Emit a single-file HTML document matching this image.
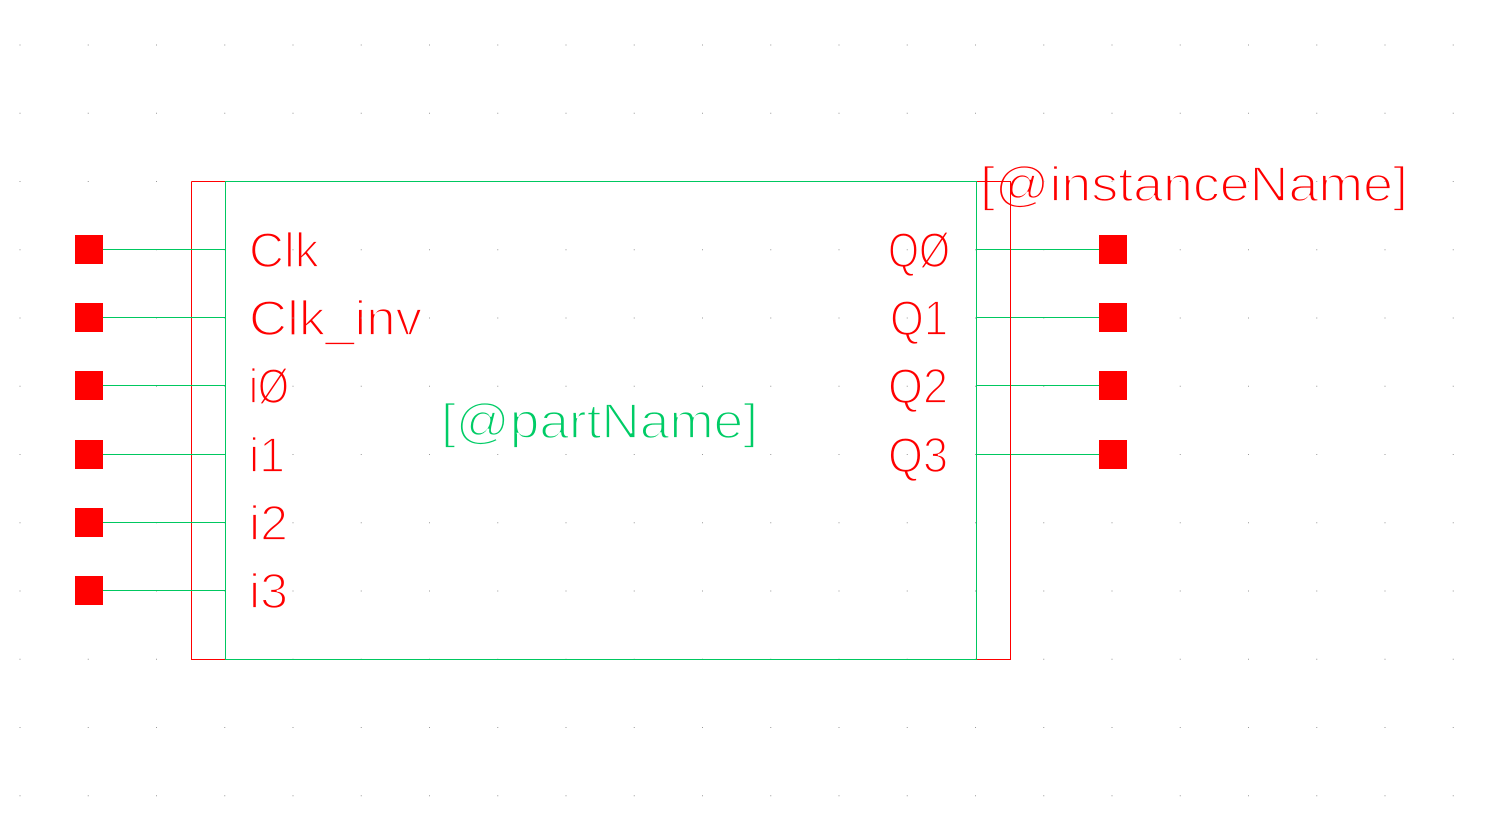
<!DOCTYPE html>
<html><head><meta charset="utf-8"><style>
html,body{margin:0;padding:0;background:#fff;}
svg{display:block;}
text{font-family:"Liberation Sans",sans-serif;font-size:49px;stroke:#fff;stroke-width:1.8px;paint-order:fill stroke;}
</style></head><body>
<svg width="1488" height="819" viewBox="0 0 1488 819" xmlns="http://www.w3.org/2000/svg">
<g fill="#ff0000">
<text x="249" y="267" textLength="70" lengthAdjust="spacingAndGlyphs">Clk</text>
<text x="249" y="335" textLength="173" lengthAdjust="spacingAndGlyphs">Clk_inv</text>
<text x="249" y="403" textLength="40" lengthAdjust="spacingAndGlyphs">iØ</text>
<text x="249" y="472" textLength="36" lengthAdjust="spacingAndGlyphs">i1</text>
<text x="249" y="540" textLength="39" lengthAdjust="spacingAndGlyphs">i2</text>
<text x="249" y="608" textLength="39" lengthAdjust="spacingAndGlyphs">i3</text>
<text x="888" y="267" textLength="62" lengthAdjust="spacingAndGlyphs">QØ</text>
<text x="890" y="335" textLength="58" lengthAdjust="spacingAndGlyphs">Q1</text>
<text x="888" y="403" textLength="60" lengthAdjust="spacingAndGlyphs">Q2</text>
<text x="888" y="472" textLength="60" lengthAdjust="spacingAndGlyphs">Q3</text>
<text x="980" y="201" textLength="428" lengthAdjust="spacingAndGlyphs">[@instanceName]</text>
</g>
<text x="441" y="438" fill="#00cc66" textLength="317" lengthAdjust="spacingAndGlyphs">[@partName]</text>
<defs>
<pattern id="g" x="19.5" y="44.5" width="68.25" height="68.25" patternUnits="userSpaceOnUse">
<rect x="0" y="0" width="1" height="1" fill="#999"/>
</pattern>
</defs>
<rect width="1488" height="819" fill="url(#g)"/>
<g shape-rendering="crispEdges" stroke-width="1" fill="none">
<path d="M191.5 181.5H225.5M191.5 181.5V659.5H225.5" stroke="#ff0000"/>
<path d="M976.5 181.5H1010.5V659.5H976.5" stroke="#ff0000"/>
<path d="M225.5 181.5H976.5V659.5H225.5Z" stroke="#00c860"/>
<path d="M103 249.5H225M103 317.5H225M103 385.5H225M103 454.5H225M103 522.5H225M103 590.5H225" stroke="#00c860"/>
<path d="M977 249.5H1099M977 317.5H1099M977 385.5H1099M977 454.5H1099" stroke="#00c860"/>
<path d="M1010.5 182V659" stroke="#ff0000"/>
</g>
<g fill="#ff0000">
<rect x="75" y="235" width="28" height="29"/>
<rect x="75" y="303" width="28" height="29"/>
<rect x="75" y="371" width="28" height="29"/>
<rect x="75" y="440" width="28" height="29"/>
<rect x="75" y="508" width="28" height="29"/>
<rect x="75" y="576" width="28" height="29"/>
<rect x="1099" y="235" width="28" height="29"/>
<rect x="1099" y="303" width="28" height="29"/>
<rect x="1099" y="371" width="28" height="29"/>
<rect x="1099" y="440" width="28" height="29"/>
</g>
</svg>
</body></html>
